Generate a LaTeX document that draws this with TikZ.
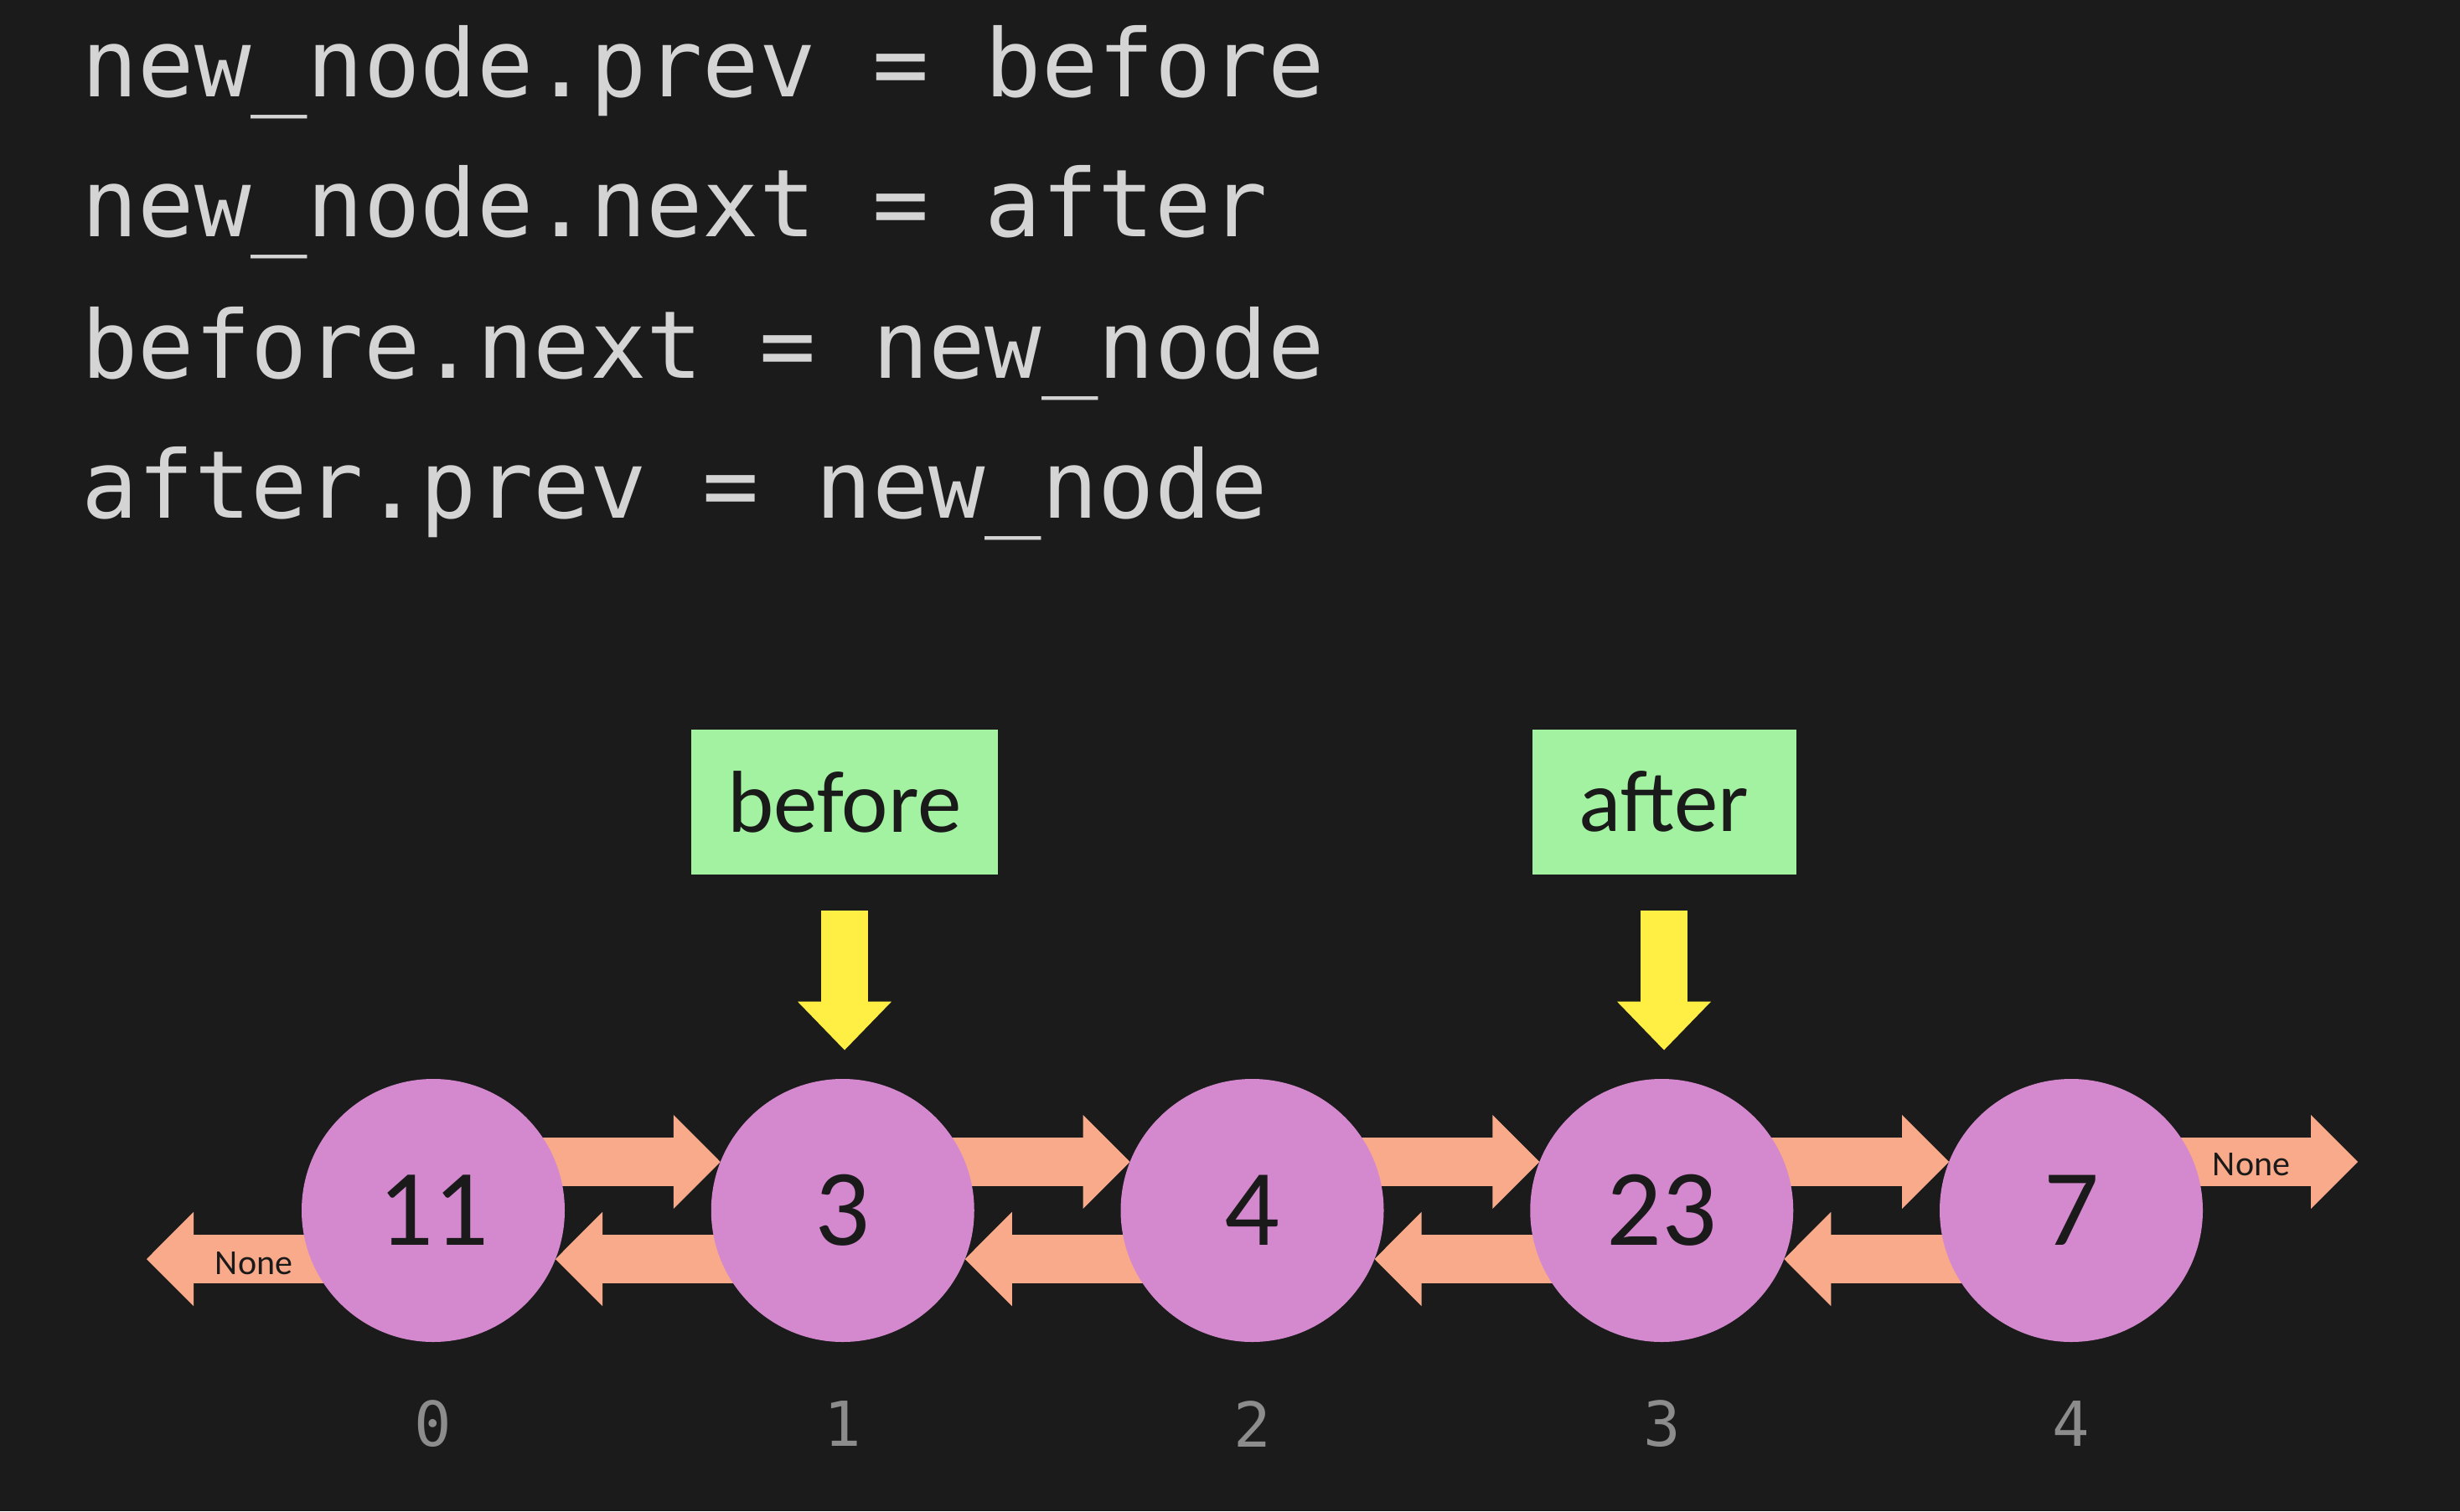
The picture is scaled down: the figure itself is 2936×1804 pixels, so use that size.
\documentclass[tikz,border=0pt]{standalone}
\usepackage{fontspec}
\setmainfont{Carlito}
\newfontfamily\codefont{DejaVu Sans Mono}
\usetikzlibrary{arrows.meta}
\definecolor{bgc}{HTML}{1B1B1B}
\definecolor{codec}{HTML}{D4D4D4}
\definecolor{idxc}{HTML}{8C8C8C}
\definecolor{nodec}{HTML}{D488CE}
\definecolor{arrc}{HTML}{F9AA8A}
\definecolor{boxc}{HTML}{A2F2A2}
\definecolor{yelc}{HTML}{FFEE44}
\definecolor{inkc}{HTML}{1A1A1A}
\pgfdeclarelayer{bgl}
\pgfdeclarelayer{arr}
\pgfsetlayers{bgl,arr,main}
\begin{document}
\begin{tikzpicture}[x=1pt,y=-1pt,
  code/.style={anchor=base west, inner sep=0pt, text=codec, font=\codefont\fontsize{112}{134}\selectfont},
  lnode/.style={circle, fill=nodec, minimum size=314pt, inner sep=0pt, outer sep=0pt, text=inkc, font=\fontsize{130}{156}\selectfont},
  idx/.style={text=idxc, font=\codefont\fontsize{74}{89}\selectfont, inner sep=0pt},
  ptr/.style={fill=boxc, text=inkc, minimum height=173pt, inner sep=0pt, outer sep=0pt, font=\fontsize{105}{126}\selectfont},
  link/.style={color=arrc, line width=58pt, -{Triangle[width=112pt,length=56pt,line width=2pt]}},
  yarr/.style={color=yelc, line width=56pt, -{Triangle[width=112pt,length=58pt,line width=2pt]}},
  nonelbl/.style={text=inkc, font=\fontsize{42}{50}\selectfont, inner sep=0pt}
]
\begin{pgfonlayer}{bgl}
  \fill[bgc] (0,0) rectangle (2936,1804);
\end{pgfonlayer}
\useasboundingbox (0,0) rectangle (2936,1804);

% code lines
\node[code] (l1) at (97,115) {new\_node.prev = before};
\node[code] (l2) at (97,282) {new\_node.next = after};
\node[code] (l3) at (97,451) {before.next = new\_node};
\node[code] (l4) at (97,618) {after.prev = new\_node};

% list nodes
\node[lnode] (c0) at (517,1445) {11};
\node[lnode] (c1) at (1005.75,1445) {3};
\node[lnode] (c2) at (1494.5,1445) {4};
\node[lnode] (c3) at (1983.25,1445) {23};
\node[lnode] (c4) at (2472,1445) {7};

% indices
\node[idx] (i0) at (517,1700) {0};
\node[idx] (i1) at (1005.75,1700) {1};
\node[idx] (i2) at (1494.5,1700) {2};
\node[idx] (i3) at (1983.25,1700) {3};
\node[idx] (i4) at (2472,1700) {4};

% pointer boxes
\node[ptr, minimum width=366pt] (bef) at (1008,957) {before};
\node[ptr, minimum width=315pt] (aft) at (1986,957) {after};
\draw[yarr] ([yshift=-43pt]bef.south) -- ([yshift=-210pt]bef.south);
\draw[yarr] ([yshift=-43pt]aft.south) -- ([yshift=-210pt]aft.south);

% links
\coordinate (nl) at (175,1503);
\coordinate (nr) at (2814,1387);
\begin{pgfonlayer}{arr}
  \draw[link] ([yshift=58pt]c0.center) -- ([xshift=-146pt,yshift=58pt]c1.center);
  \draw[link] ([yshift=-58pt]c1.center) -- ([xshift=146pt,yshift=-58pt]c0.center);
  \draw[link] ([yshift=58pt]c1.center) -- ([xshift=-146pt,yshift=58pt]c2.center);
  \draw[link] ([yshift=-58pt]c2.center) -- ([xshift=146pt,yshift=-58pt]c1.center);
  \draw[link] ([yshift=58pt]c2.center) -- ([xshift=-146pt,yshift=58pt]c3.center);
  \draw[link] ([yshift=-58pt]c3.center) -- ([xshift=146pt,yshift=-58pt]c2.center);
  \draw[link] ([yshift=58pt]c3.center) -- ([xshift=-146pt,yshift=58pt]c4.center);
  \draw[link] ([yshift=-58pt]c4.center) -- ([xshift=146pt,yshift=-58pt]c3.center);
  \draw[link] ([yshift=-58pt]c0.center) -- (nl);
  \draw[link] ([yshift=58pt]c4.center) -- (nr);
\end{pgfonlayer}
\node[nonelbl] (n1) at (303,1508) {None};
\node[nonelbl] (n2) at (2687,1390) {None};
\end{tikzpicture}
\end{document}
